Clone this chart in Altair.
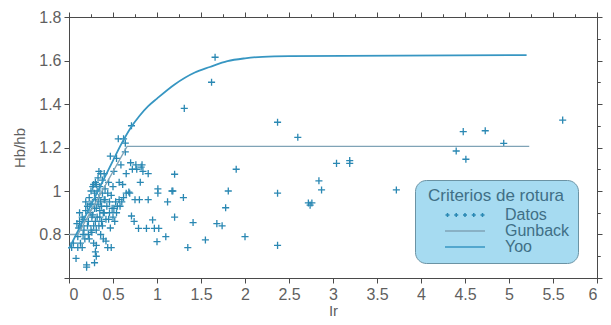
import altair as alt
import pandas as pd

# ---------------- data ----------------
datos_ir = [
    0.03, 0.05, 0.08, 0.09, 0.10, 0.10, 0.11, 0.12, 0.12, 0.13, 0.14, 0.15, 0.15, 0.16, 0.17, 0.17,
    0.18, 0.19, 0.19, 0.20, 0.20, 0.21, 0.21, 0.22, 0.22, 0.23, 0.23, 0.24, 0.24, 0.25, 0.25, 0.26,
    0.26, 0.26, 0.27, 0.27, 0.28, 0.28, 0.28, 0.29, 0.29, 0.29, 0.30, 0.30, 0.30, 0.30, 0.31, 0.31,
    0.31, 0.31, 0.31, 0.32, 0.32, 0.33, 0.33, 0.34, 0.34, 0.34, 0.35, 0.35, 0.35, 0.36, 0.36, 0.36,
    0.37, 0.37, 0.38, 0.38, 0.38, 0.39, 0.39, 0.40, 0.40, 0.40, 0.41, 0.41, 0.42, 0.42, 0.43, 0.44,
    0.44, 0.45, 0.45, 0.46, 0.46, 0.47, 0.47, 0.48, 0.48, 0.49, 0.50, 0.50, 0.51, 0.51, 0.52, 0.53,
    0.54, 0.54, 0.55, 0.56, 0.57, 0.57, 0.58, 0.59, 0.60, 0.61, 0.62, 0.62, 0.64, 0.64, 0.65, 0.65,
    0.68, 0.69, 0.70, 0.71, 0.71, 0.72, 0.74, 0.75, 0.76, 0.77, 0.79, 0.80, 0.81, 0.82, 0.83, 0.84,
    0.88, 0.90, 0.90, 0.95, 0.97, 1.00, 1.01, 1.01, 1.02, 1.10, 1.12, 1.17, 1.18, 1.20, 1.20, 1.30,
    1.31, 1.35, 1.41, 1.55, 1.62, 1.66, 1.68, 1.74, 1.78, 1.81, 1.90, 2.00, 2.37, 2.37, 2.37, 2.60,
    2.72, 2.74, 2.76, 2.84, 2.87, 3.04, 3.19, 3.19, 3.72, 4.40, 4.48, 4.51, 4.73, 4.94, 5.61,
]
datos_hb = [
    0.74, 0.76, 0.69, 0.85, 0.74, 0.79, 0.83, 0.86, 0.90, 0.76, 0.84, 0.74, 0.88, 0.80, 0.82, 0.87,
    0.78, 0.95, 0.91, 0.66, 0.65, 0.84, 0.93, 0.80, 0.86, 0.78, 0.97, 0.90, 0.94, 0.82, 1.00, 0.81,
    0.94, 0.88, 0.89, 1.02, 0.84, 1.03, 0.76, 0.67, 0.92, 0.99, 0.72, 0.86, 0.96, 1.04, 0.70, 0.75,
    0.82, 0.92, 1.03, 0.88, 1.00, 0.94, 1.06, 0.84, 1.09, 0.97, 0.88, 0.91, 1.02, 1.08, 0.80, 0.95,
    0.93, 0.86, 0.99, 0.84, 1.05, 0.78, 0.90, 1.08, 0.96, 0.90, 1.01, 0.96, 0.77, 0.87, 0.93, 0.74,
    0.99, 0.87, 1.04, 0.95, 0.90, 1.16, 0.83, 0.74, 0.98, 0.92, 0.88, 1.02, 0.92, 1.09, 0.86, 0.95,
    0.90, 1.15, 0.93, 1.24, 1.04, 0.96, 0.93, 1.12, 0.95, 1.03, 0.97, 1.24, 1.22, 1.18, 0.99, 1.08,
    0.995, 0.99, 1.13, 1.30, 0.885, 1.10, 0.86, 0.96, 1.12, 1.10, 0.828, 0.96, 1.04, 1.11, 1.12, 1.09,
    0.828, 1.08, 0.96, 0.867, 0.828, 0.767, 1.01, 0.99, 0.828, 0.79, 0.95, 1.00, 1.00, 0.88, 1.077, 0.97,
    1.38, 0.74, 0.855, 0.775, 1.50, 1.615, 0.85, 0.84, 0.923, 1.00, 1.10, 0.79, 1.316, 0.99, 0.75, 1.247,
    0.945, 0.935, 0.945, 1.047, 1.005, 1.127, 1.14, 1.127, 1.005, 1.184, 1.273, 1.146, 1.277, 1.219, 1.326,
]

gunback_ir = [0.0, 0.10, 0.66, 5.23]
gunback_hb = [0.80, 0.80, 1.205, 1.205]

yoo_ir = [0.0, 0.25, 0.50, 0.60, 0.70, 0.80, 0.90, 1.00, 1.20, 1.43, 1.60, 1.80, 2.00, 2.20, 2.50, 5.20]
yoo_hb = [0.735, 0.935, 1.14, 1.22, 1.29, 1.345, 1.39, 1.425, 1.49, 1.545, 1.57, 1.597, 1.61, 1.617, 1.62, 1.625]

series = ["Datos", "Gunback", "Yoo"]
series_colors = ["#2a88b3", "#7fa3b6", "#3796c2"]

x_major = [0, 0.5, 1, 1.5, 2, 2.5, 3, 3.5, 4, 4.5, 5, 5.5, 6]
x_minor = [0.25, 0.75, 1.25, 1.75, 2.25, 2.75, 3.25, 3.75, 4.25, 4.75, 5.25, 5.75]
y_major = [0.6, 0.8, 1.0, 1.2, 1.4, 1.6, 1.8]
y_minor = [0.7, 0.9, 1.1, 1.3, 1.5, 1.7]

# ---------------- tables ----------------
df_datos = pd.DataFrame({"Ir": datos_ir, "Hb": datos_hb})
df_gun = pd.DataFrame({"Ir": gunback_ir, "Hb": gunback_hb})
df_yoo = pd.DataFrame({"Ir": yoo_ir, "Hb": yoo_hb})
df_leg = pd.DataFrame({"serie": series})

FONT = "Liberation Sans"
xs = alt.Scale(domain=[0, 6], nice=False, zero=False)
ys = alt.Scale(domain=[0.6, 1.8], nice=False, zero=False)

common_axis = dict(grid=False, domainColor="#4a4a4a", tickColor="#4a4a4a", labelFont=FONT,
                   labelFontSize=16, labelColor="#5f5f5f", titleFont=FONT, titleFontSize=15,
                   titleFontWeight="normal", titleColor="#5f5f5f")

ax_bottom = alt.Axis(values=x_major, format="~g", tickSize=5, labelPadding=3, title="Ir",
                     titlePadding=1, **common_axis)
ax_left = alt.Axis(values=y_major, tickSize=5, labelPadding=3, title="Hb/hb", titlePadding=11,
                   labelExpr="datum.value < 0.7 ? '' : format(datum.value, '~g')", **common_axis)
ax_bottom_minor = alt.Axis(values=x_minor, tickSize=3, labels=False, domain=False, title=None,
                           grid=False, tickColor="#4a4a4a")
ax_left_minor = alt.Axis(values=y_minor, tickSize=3, labels=False, domain=False, title=None,
                         grid=False, tickColor="#4a4a4a")
ax_top = alt.Axis(orient="top", values=x_major, tickSize=5, labels=False, title=None, grid=False,
                  domainColor="#4a4a4a", tickColor="#4a4a4a")
ax_right = alt.Axis(orient="right", values=y_major, tickSize=5, labels=False, title=None, grid=False,
                    domainColor="#4a4a4a", tickColor="#4a4a4a")
ax_top_minor = alt.Axis(orient="top", values=x_minor, tickSize=3, labels=False, title=None,
                        grid=False, domain=False, tickColor="#4a4a4a")
ax_right_minor = alt.Axis(orient="right", values=y_minor, tickSize=3, labels=False, title=None,
                          grid=False, domain=False, tickColor="#4a4a4a")

CROSS = "M-1,0H1M0,-1V1"

points = alt.Chart(df_datos).mark_point(shape=CROSS, filled=False, size=50, strokeWidth=1.3,
                                        color=series_colors[0], opacity=1).encode(
    x=alt.X("Ir:Q", scale=xs, axis=ax_bottom),
    y=alt.Y("Hb:Q", scale=ys, axis=ax_left),
)

gun = alt.Chart(df_gun).mark_line(color=series_colors[1], strokeWidth=1.3).encode(
    x=alt.X("Ir:Q", scale=xs, axis=ax_bottom_minor),
    y=alt.Y("Hb:Q", scale=ys, axis=ax_left_minor),
)

yoo = alt.Chart(df_yoo).mark_line(color=series_colors[2], strokeWidth=1.8,
                                  interpolate="monotone").encode(
    x=alt.X("Ir:Q", scale=xs, axis=ax_top),
    y=alt.Y("Hb:Q", scale=ys, axis=ax_right),
)

minor_tr = alt.Chart(df_gun).mark_line(strokeOpacity=0).encode(
    x=alt.X("Ir:Q", scale=xs, axis=ax_top_minor),
    y=alt.Y("Hb:Q", scale=ys, axis=ax_right_minor),
)

DATOS_SYM = ("M-3.9,0H-3.1M-3.5,-0.4V0.4M-2.15,0H-1.35M-1.75,-0.4V0.4M-0.4,0H0.4M0,-0.4V0.4"
             "M1.35,0H2.15M1.75,-0.4V0.4M3.1,0H3.9M3.5,-0.4V0.4")
LINE_SYM = "M-4,0H4"

legend = alt.Legend(orient="none", legendX=346, legendY=163, title="Criterios de rotura",
                    fillColor="#a6dbf1", strokeColor="#6b93a4", cornerRadius=11, padding=8,
                    titleFont=FONT, titleFontSize=17, titleFontWeight="normal",
                    titleColor="#3f6f86", titlePadding=2, labelFont=FONT, labelFontSize=16,
                    labelColor="#3f6f86", symbolSize=100, symbolStrokeWidth=1.5, labelOffset=32,
                    symbolOffset=34, rowPadding=0, symbolOpacity=1, titleAnchor="middle")

leg_layer = alt.Chart(df_leg).mark_point(filled=False, opacity=0).encode(
    color=alt.Color("serie:N", scale=alt.Scale(domain=series, range=series_colors), legend=legend),
    shape=alt.Shape("serie:N", scale=alt.Scale(domain=series, range=[DATOS_SYM, LINE_SYM, LINE_SYM]),
                    legend=legend),
)

chart = alt.layer(points, gun, yoo, minor_tr, leg_layer).resolve_axis(
    x="independent", y="independent"
).properties(
    width=528, height=261,
    autosize=alt.AutoSizeParams(type="none"),
    padding={"left": 69, "top": 17, "right": 14, "bottom": 47},
    background="#ffffff",
).configure_view(fill="#b4e3f5", stroke="#4a4a4a", strokeWidth=1)

chart.save("out.html", embed_options={"renderer": "svg", "actions": False})
